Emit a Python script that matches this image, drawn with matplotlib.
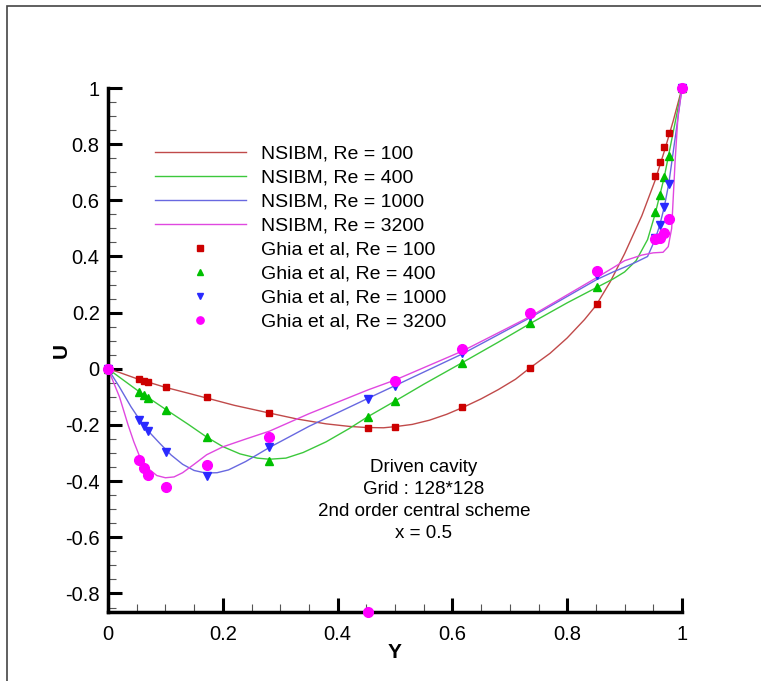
import matplotlib
matplotlib.use("Agg")
import matplotlib.pyplot as plt
from matplotlib.patches import Rectangle
from matplotlib.ticker import MultipleLocator, FuncFormatter

plt.rcParams['font.family'] = ['Liberation Sans', 'DejaVu Sans']
plt.rcParams['axes.unicode_minus'] = False

# Ghia et al. (1982) u-velocity along the vertical centreline
ghia_y = [0.0, 0.0547, 0.0625, 0.0703, 0.1016, 0.1719, 0.2813, 0.4531, 0.5,
          0.6172, 0.7344, 0.8516, 0.9531, 0.9609, 0.9688, 0.9766, 1.0]
ghia_re100 = [0.0, -0.03717, -0.04192, -0.04775, -0.06434, -0.10150, -0.15662,
              -0.21090, -0.20581, -0.13641, 0.00332, 0.23151, 0.68717, 0.73722,
              0.78871, 0.84123, 1.0]
ghia_re400 = [0.0, -0.08186, -0.09266, -0.10338, -0.14612, -0.24299, -0.32726,
              -0.17119, -0.11477, 0.02135, 0.16256, 0.29093, 0.55892, 0.61756,
              0.68439, 0.75837, 1.0]
ghia_re1000 = [0.0, -0.18109, -0.20196, -0.22220, -0.29730, -0.38289, -0.27805,
               -0.10648, -0.06080, 0.05702, 0.18719, 0.33304, 0.46604, 0.51117,
               0.57492, 0.65928, 1.0]
ghia_re3200 = [0.0, -0.32407, -0.35344, -0.37827, -0.41933, -0.34323, -0.24427,
               -0.86636, -0.04272, 0.07156, 0.19791, 0.34682, 0.46101, 0.46547,
               0.48296, 0.53236, 1.0]

# NSIBM solutions, 128x128 grid
nsibm_y100 = [0.0, 0.02, 0.05, 0.1, 0.14, 0.17, 0.22, 0.28, 0.33, 0.38, 0.42,
              0.45, 0.48, 0.5, 0.53, 0.56, 0.59, 0.62, 0.65, 0.68, 0.71, 0.735,
              0.77, 0.8, 0.83, 0.85, 0.875, 0.9, 0.93, 0.953, 0.97, 0.985, 1.0]
nsibm_u100 = [0.0, -0.013, -0.035, -0.066, -0.087, -0.103, -0.13, -0.157,
              -0.179, -0.196, -0.205, -0.209, -0.21, -0.206, -0.198, -0.183,
              -0.162, -0.136, -0.107, -0.074, -0.037, 0.003, 0.055, 0.11, 0.175,
              0.225, 0.31, 0.41, 0.545, 0.67, 0.78, 0.885, 1.0]

nsibm_y400 = [0.0, 0.02, 0.0547, 0.0703, 0.1016, 0.14, 0.1719, 0.2, 0.23, 0.26,
              0.2813, 0.31, 0.34, 0.38, 0.42, 0.4531, 0.5, 0.55, 0.6172, 0.68,
              0.7344, 0.8, 0.8516, 0.88, 0.9, 0.92, 0.94, 0.953, 0.9688, 0.9844,
              1.0]
nsibm_u400 = [0.0, -0.03, -0.082, -0.103, -0.146, -0.198, -0.243, -0.277,
              -0.303, -0.318, -0.322, -0.318, -0.298, -0.26, -0.213, -0.17,
              -0.115, -0.055, 0.022, 0.095, 0.16, 0.235, 0.29, 0.32, 0.345,
              0.385, 0.46, 0.55, 0.68, 0.84, 1.0]

nsibm_y1000 = [0.0, 0.02, 0.04, 0.0547, 0.0703, 0.09, 0.11, 0.13, 0.15, 0.17,
               0.19, 0.21, 0.24, 0.2813, 0.35, 0.4531, 0.5, 0.6172, 0.7344,
               0.8516, 0.88, 0.9, 0.92, 0.94, 0.953, 0.961, 0.969, 0.977, 0.99,
               1.0]
nsibm_u1000 = [0.0, -0.065, -0.135, -0.18, -0.222, -0.265, -0.307, -0.34,
               -0.362, -0.371, -0.37, -0.36, -0.33, -0.28, -0.205, -0.105, -0.06,
               0.053, 0.181, 0.318, 0.345, 0.362, 0.38, 0.40, 0.46, 0.51, 0.575,
               0.66, 0.85, 1.0]

nsibm_y3200 = [0.0, 0.01, 0.02, 0.035, 0.045, 0.0547, 0.07, 0.085, 0.1, 0.115,
               0.13, 0.15, 0.1719, 0.2, 0.24, 0.2813, 0.35, 0.4531, 0.5, 0.6172,
               0.7344, 0.8516, 0.88, 0.9, 0.93, 0.95, 0.967, 0.976, 0.982, 0.988,
               0.993, 1.0]
nsibm_u3200 = [0.0, -0.05, -0.1, -0.2, -0.26, -0.31, -0.355, -0.38, -0.388,
               -0.385, -0.37, -0.34, -0.306, -0.278, -0.25, -0.222, -0.16, -0.075,
               -0.04, 0.063, 0.185, 0.325, 0.36, 0.385, 0.405, 0.413, 0.415,
               0.435, 0.5, 0.74, 0.9, 1.0]

line_colors = ['#c04a4a', '#3cc83c', '#6868e0', '#e048e0']
mark_colors = ['#cc0000', '#00c000', '#2a2aff', '#ff00ff']
re_labels = ['100', '400', '1000', '3200']

fig = plt.figure(figsize=(7.61, 6.81), dpi=100)
ax = fig.add_axes([108 / 761, 1 - 612 / 681, 574 / 761, 524 / 681])

nsibm = [(nsibm_y100, nsibm_u100), (nsibm_y400, nsibm_u400),
         (nsibm_y1000, nsibm_u1000), (nsibm_y3200, nsibm_u3200)]
for (yy, uu), c, re in zip(nsibm, line_colors, re_labels):
    ax.plot(yy, uu, color=c, lw=1.0, label=f'NSIBM, Re = {re}', zorder=2)

ghia = [ghia_re100, ghia_re400, ghia_re1000, ghia_re3200]
markers = [('s', 5.0), ('^', 6.0), ('v', 6.0), ('o', 7.0)]
for uu, c, (m, ms), re in zip(ghia, mark_colors, markers, re_labels):
    ax.plot(ghia_y, uu, ls='none', marker=m, ms=ms, color=c, mec=c,
            label=f'Ghia et al, Re = {re}', zorder=3, clip_on=False)

ax.set_xlim(0, 1)
ax.set_ylim(-0.866, 1.0)
ax.spines['top'].set_visible(False)
ax.spines['right'].set_visible(False)
for s in ('left', 'bottom'):
    ax.spines[s].set_linewidth(2.5)

ax.xaxis.set_major_locator(MultipleLocator(0.2))
ax.xaxis.set_minor_locator(MultipleLocator(0.05))
ax.yaxis.set_major_locator(MultipleLocator(0.2))
ax.yaxis.set_minor_locator(MultipleLocator(0.05))
fmt = FuncFormatter(lambda v, p: f'{v:.1f}'.rstrip('0').rstrip('.') if abs(v) > 1e-9 else '0')
ax.xaxis.set_major_formatter(fmt)
ax.yaxis.set_major_formatter(fmt)
ax.tick_params(which='major', direction='in', length=10, width=2.2,
               labelsize=14.5, pad=6)
ax.tick_params(which='minor', direction='in', length=6, width=0.8,
               color='#555555')
ax.tick_params(axis='x', which='major', pad=9)

ax.set_xlabel('Y', fontsize=15, fontweight='bold', labelpad=0)
ax.set_ylabel('U', fontsize=15, fontweight='bold', labelpad=-4)

leg = ax.legend(loc='upper left', bbox_to_anchor=(145 / 761, 1 - 135 / 681),
                bbox_transform=fig.transFigure, frameon=False, fontsize=14,
                handlelength=4.7, handletextpad=0.75, labelspacing=0.33,
                numpoints=1, markerscale=0.75, borderpad=0)

note_lines = ['Driven cavity', 'Grid : 128*128', '2nd order central scheme',
              'x = 0.5']
for i, t in enumerate(note_lines):
    fig.text(424 / 761, 1 - (467 + 22 * i) / 681, t, ha='center', va='center',
             fontsize=13.5)

frame = Rectangle((7 / 761, -0.5), 2.0, 0.5 + 1 - 6 / 681,
                  transform=fig.transFigure, fill=False, edgecolor='#444444',
                  lw=1.2, clip_on=False)
fig.patches.append(frame)

fig.savefig('out.png', dpi=100)
